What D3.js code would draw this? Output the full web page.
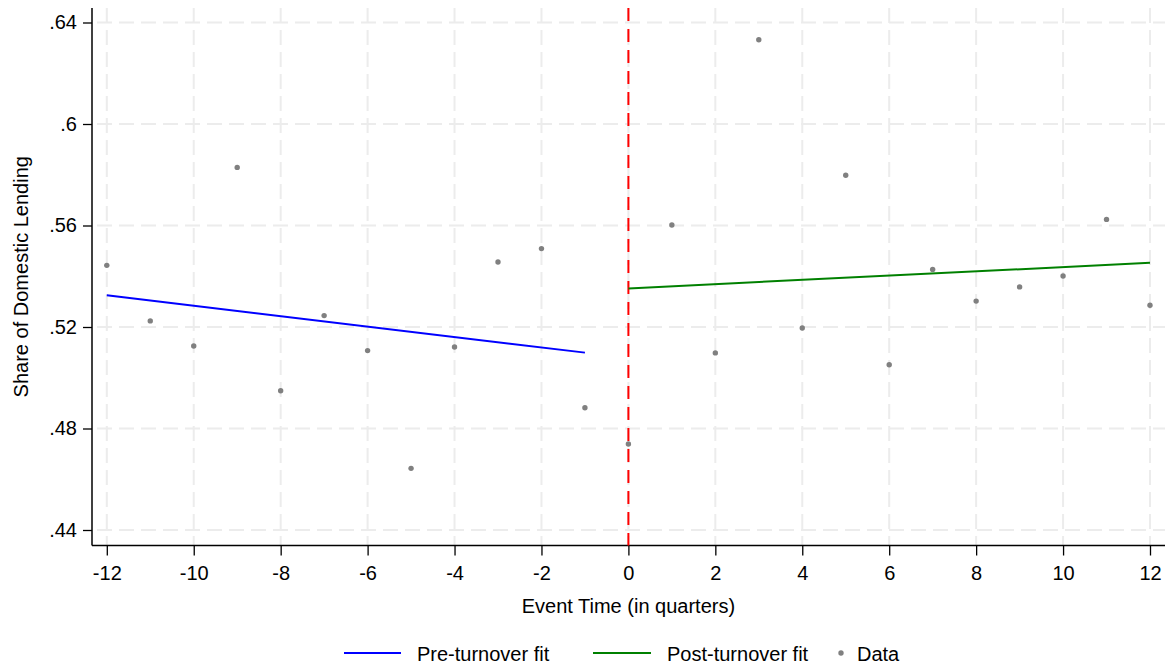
<!DOCTYPE html>
<html>
<head>
<meta charset="utf-8">
<script src="https://cdn.jsdelivr.net/npm/d3@7"></script>
<style>
  body { margin: 0; background: #fff; }
  svg { font-family: "Liberation Sans", Arial, Helvetica, sans-serif; }
</style>
</head>
<body>
<div id="chart"></div>
<script>
// Event time (quarters) and share of domestic lending
const quarters = [-12, -11, -10, -9, -8, -7, -6, -5, -4, -3, -2, -1, 0, 1, 2, 3, 4, 5, 6, 7, 8, 9, 10, 11, 12];
const shares = [0.5443, 0.5224, 0.5125, 0.5829, 0.4949, 0.5245, 0.5107, 0.4643, 0.5121, 0.5456, 0.5509, 0.4882,
                0.4739, 0.5602, 0.5098, 0.6332, 0.5196, 0.5798, 0.5051, 0.5427, 0.5302, 0.5358, 0.5401, 0.5624, 0.5286];

// fitted lines (endpoints)
const preFitX = [-12, -1];
const preFitY = [0.5325, 0.5099];
const postFitX = [0, 12];
const postFitY = [0.5352, 0.5453];

const xTicks = [-12, -10, -8, -6, -4, -2, 0, 2, 4, 6, 8, 10, 12];
const yTicks = [0.44, 0.48, 0.52, 0.56, 0.60, 0.64];
const yTickLabels = [".44", ".48", ".52", ".56", ".6", ".64"];

const width = 1168;
const height = 664;
const plot = { left: 92, right: 1165, top: 8, bottom: 545.5 };
const fontSize = "20px";

const svg = d3.select("#chart")
  .append("svg")
  .attr("width", width)
  .attr("height", height);

const x = d3.scaleLinear().domain([-12, 12]).range([106.8, 1150]);
const y = d3.scaleLinear().domain([0.44, 0.64]).range([530, 22.5]);

// grid
svg.append("g")
  .selectAll("line")
  .data(yTicks)
  .enter()
  .append("line")
  .attr("x1", plot.left)
  .attr("x2", plot.right)
  .attr("y1", d => y(d))
  .attr("y2", d => y(d))
  .attr("stroke", "#ececec")
  .attr("stroke-width", 2)
  .attr("stroke-dasharray", "15,7")
  .attr("stroke-dashoffset", -5);

svg.append("g")
  .selectAll("line")
  .data(xTicks)
  .enter()
  .append("line")
  .attr("x1", d => x(d))
  .attr("x2", d => x(d))
  .attr("y1", plot.top)
  .attr("y2", plot.bottom)
  .attr("stroke", "#ececec")
  .attr("stroke-width", 2)
  .attr("stroke-dasharray", "15,7");

// axes
const yAxis = svg.append("g")
  .attr("transform", `translate(${plot.left},0)`)
  .call(d3.axisLeft(y).tickValues(yTicks).tickFormat((d, i) => yTickLabels[i]).tickSize(9).tickPadding(6));
yAxis.select(".domain").remove();
yAxis.append("line")
  .attr("y1", plot.top).attr("y2", plot.bottom)
  .attr("stroke", "#000").attr("stroke-width", 1.5);

const xAxis = svg.append("g")
  .attr("transform", `translate(0,${plot.bottom})`)
  .call(d3.axisBottom(x).tickValues(xTicks).tickFormat(d3.format("d")).tickSize(10).tickPadding(10));
xAxis.select(".domain").remove();
xAxis.append("line")
  .attr("x1", plot.left).attr("x2", plot.right)
  .attr("stroke", "#000").attr("stroke-width", 1.5);

svg.selectAll(".tick line").attr("stroke", "#000").attr("stroke-width", 1.3);
svg.selectAll(".tick text")
  .style("font-size", fontSize)
  .style("font-family", "'Liberation Sans', Arial, sans-serif")
  .attr("fill", "#000");
xAxis.selectAll(".tick text").text(d => d < 0 ? "-" + Math.abs(d) : d);

// axis titles
svg.append("text")
  .attr("x", x(0))
  .attr("y", 613)
  .attr("text-anchor", "middle")
  .style("font-size", fontSize)
  .text("Event Time (in quarters)");

svg.append("text")
  .attr("transform", `translate(28, ${(plot.top + plot.bottom) / 2}) rotate(-90)`)
  .attr("text-anchor", "middle")
  .style("font-size", fontSize)
  .text("Share of Domestic Lending");

// event line at 0
svg.append("line")
  .attr("x1", x(0)).attr("x2", x(0))
  .attr("y1", plot.top).attr("y2", plot.bottom)
  .attr("stroke", "#ff0000")
  .attr("stroke-width", 2)
  .attr("stroke-dasharray", "13,8");

// fit lines
const line = d3.line().x(d => x(d[0])).y(d => y(d[1]));
svg.append("path")
  .datum(preFitX.map((d, i) => [d, preFitY[i]]))
  .attr("d", line)
  .attr("fill", "none")
  .attr("stroke", "#0000ff")
  .attr("stroke-width", 2);

svg.append("path")
  .datum(postFitX.map((d, i) => [d, postFitY[i]]))
  .attr("d", line)
  .attr("fill", "none")
  .attr("stroke", "#008000")
  .attr("stroke-width", 2);

// data points
svg.append("g")
  .selectAll("circle")
  .data(quarters)
  .enter()
  .append("circle")
  .attr("cx", d => x(d))
  .attr("cy", (d, i) => y(shares[i]))
  .attr("r", 2.7)
  .attr("fill", "#808080");

// legend
const legend = svg.append("g").attr("transform", "translate(0,653)");
legend.append("line").attr("x1", 344).attr("x2", 401).attr("stroke", "#0000ff").attr("stroke-width", 2);
legend.append("text").attr("x", 417).attr("y", 8).style("font-size", fontSize).text("Pre-turnover fit");
legend.append("line").attr("x1", 593).attr("x2", 651).attr("stroke", "#008000").attr("stroke-width", 2);
legend.append("text").attr("x", 667).attr("y", 8).style("font-size", fontSize).text("Post-turnover fit");
legend.append("circle").attr("cx", 841).attr("cy", 0).attr("r", 2.7).attr("fill", "#808080");
legend.append("text").attr("x", 857).attr("y", 8).style("font-size", fontSize).text("Data");
</script>
</body>
</html>
